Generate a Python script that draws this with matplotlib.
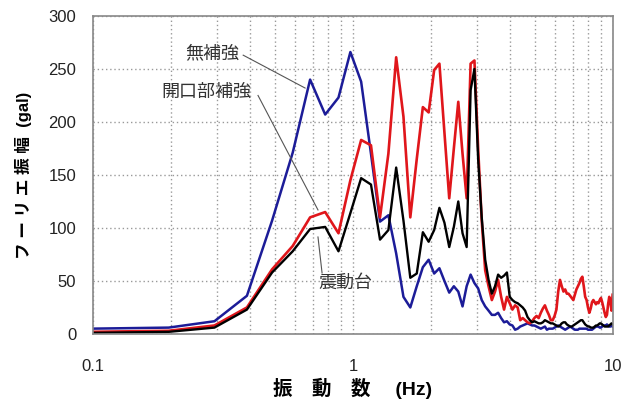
import numpy as np
import matplotlib
matplotlib.use('Agg')
import matplotlib.pyplot as plt

plt.rcParams['font.family'] = ['Liberation Sans', 'Noto Sans CJK JP', 'DejaVu Sans']

# FFT bins: df = 1/10.24 s
freq = np.arange(1, 103) * 0.09766

# 無補強 (blue)
mu_hokyo = [5, 6, 12, 36, 107, 171, 240, 207, 223, 266,
            238, 170, 106, 112, 76, 35, 25, 45, 63, 70,
            57, 62, 50, 39, 45, 40, 26, 45, 56, 48,
            43, 32, 26, 22, 18, 18, 20, 15, 11, 12,
            9, 8, 4, 5, 7, 8, 9, 10, 9, 8,
            8, 7, 6, 5, 6, 7, 4, 5, 5, 5,
            6, 7, 8, 7, 6, 5, 4, 5, 6, 7,
            6, 5, 4, 4, 4, 5, 5, 5, 5, 5,
            5, 4, 4, 4, 4, 5, 6, 7, 7, 7,
            6, 6, 7, 8, 8, 8, 9, 8, 7, 7,
            8, 7]

# 開口部補強 (red)
kaikoubu = [2, 3, 8, 25, 61, 83, 110, 115, 95, 145,
            183, 178, 110, 170, 261, 205, 110, 165, 214, 209,
            249, 255, 190, 128, 175, 219, 170, 128, 255, 258,
            175, 107, 60, 45, 32, 40, 51, 35, 23, 35,
            29, 23, 27, 25, 13, 15, 13, 11, 10, 12,
            15, 17, 15, 20, 24, 27, 22, 18, 13, 13,
            17, 23, 40, 51, 45, 40, 42, 38, 38, 36,
            34, 32, 37, 42, 45, 48, 52, 54, 45, 35,
            32, 25, 20, 24, 30, 32, 30, 28, 30, 29,
            32, 34, 30, 25, 20, 16, 18, 28, 35, 30,
            22, 37]

# 震動台 (black)
shindoudai = [1, 2, 6, 23, 58, 78, 99, 101, 78, 114,
              147, 141, 89, 98, 157, 107, 53, 57, 96, 87,
              98, 119, 105, 82, 101, 125, 95, 82, 230, 250,
              165, 110, 70, 51, 38, 45, 56, 53, 55, 58,
              35, 32, 30, 29, 27, 25, 22, 16, 13, 11,
              12, 11, 10, 10, 11, 13, 12, 11, 10, 10,
              9, 8, 7, 8, 10, 11, 11, 9, 8, 7,
              7, 8, 9, 10, 11, 12, 13, 13, 11, 9,
              8, 7, 7, 6, 6, 6, 7, 8, 8, 9,
              10, 10, 9, 8, 7, 7, 7, 7, 8, 9,
              10, 9]

fig = plt.figure(figsize=(6.33, 3.99), dpi=100)
ax = fig.add_axes([0.147, 0.163, 0.8215, 0.797])

ax.plot(freq, mu_hokyo, color='#1c1c98', lw=1.8)
ax.plot(freq, kaikoubu, color='#e0161b', lw=1.9)
ax.plot(freq, shindoudai, color='black', lw=1.7)

ax.set_xscale('log')
ax.set_xlim(0.1, 10)
ax.set_ylim(0, 300)
ax.set_yticks(range(0, 301, 50))
ax.set_xticks([0.1, 1, 10], ['0.1', '1', '10'])
ax.set_xticks([i * 0.1 for i in range(2, 10)] + list(range(2, 10)), minor=True)
ax.set_xticklabels([], minor=True)
ax.tick_params(which='both', length=0)
ax.tick_params(axis='x', pad=18, labelsize=12, colors='#222')
ax.tick_params(axis='y', pad=12, labelsize=12, colors='#222')

ax.grid(True, which='both', axis='x', ls=(0, (1, 2)), color='#999', lw=1)
ax.grid(True, which='major', axis='y', ls=(0, (1, 2)), color='#999', lw=1)
for s in ax.spines.values():
    s.set_color('#888')
    s.set_linewidth(1.2)

ax.set_xlabel('振　動　数　 (Hz)', fontsize=14, fontweight='bold', labelpad=3)
ax.set_ylabel('フ ー リ エ 振 幅  (gal)', fontsize=12, fontweight='bold', labelpad=12)

# 注記
ann = dict(fontsize=13, color='#333', ha='center', va='center')
ax.text(0.287, 264, '無補強', **ann)
ax.plot([0.378, 0.654], [263, 232], color='#555', lw=0.8)
ax.text(0.272, 228, '開口部補強', **ann)
ax.plot([0.431, 0.733], [225, 117], color='#555', lw=0.8)
ax.text(0.932, 48, '震動台', **ann)
ax.plot([0.760, 0.733], [57.5, 91.5], color='#555', lw=0.8)

fig.savefig('out.png', dpi=100)
